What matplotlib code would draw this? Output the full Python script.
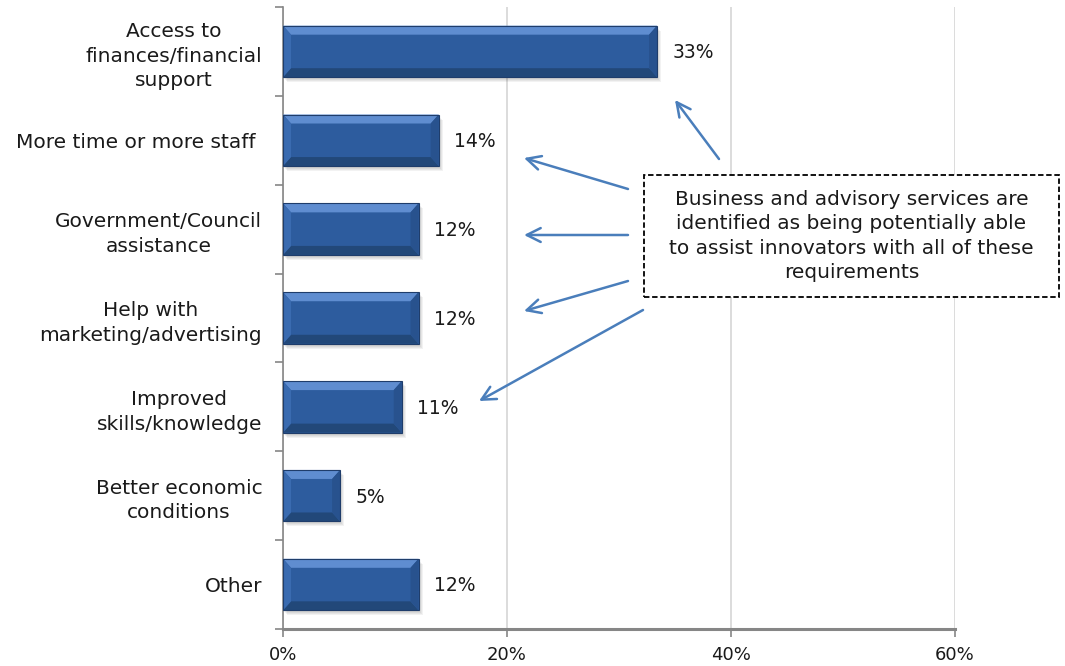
import matplotlib.pyplot as plt
from matplotlib.patches import Polygon, Rectangle
from matplotlib.ticker import FixedLocator, PercentFormatter
import numpy as np

categories = ['Access to\nfinances/financial\nsupport',
              'More time or more staff ',
              'Government/Council\nassistance',
              'Help with\nmarketing/advertising',
              'Improved\nskills/knowledge',
              'Better economic\nconditions',
              'Other']
shares = [0.334, 0.139, 0.121, 0.121, 0.106, 0.051, 0.121]
x_ticks = [0, 0.2, 0.4, 0.6]

note = ('Business and advisory services are\nidentified as being potentially able\n'
        'to assist innovators with all of these\nrequirements')

plt.rcParams['font.family'] = 'DejaVu Sans'
W, H = 1065, 666
fig = plt.figure(figsize=(W / 100, H / 100), dpi=100)
ax = fig.add_axes([283 / W, 1 - 629 / H, 672 / W, 622 / H])

ypos = np.arange(len(categories))
bar_h = 0.58
ax.set_xlim(0, 0.6)
ax.set_ylim(len(categories) - 0.5, -0.5)

# pixel size in data units, for the bevel
px_x = 0.6 / 672
px_y = len(categories) / 622


def bevel_bar(y, w):
    x0, x1 = 0, w
    top, bot = y - bar_h / 2, y + bar_h / 2
    bx, by = 8 * px_x, 9 * px_y
    # soft shadow under the bar
    for k in range(4):
        ax.add_patch(Rectangle((x0 + (1 + k) * px_x, top + (2 + k) * px_y), w, bar_h,
                               facecolor='black', alpha=0.05, lw=0, zorder=2))
    ax.add_patch(Rectangle((x0, top), w, bar_h, facecolor='#2D5C9E', lw=0, zorder=3))
    # top face (lighter)
    ax.add_patch(Polygon([(x0, top), (x1, top), (x1 - bx, top + by), (x0 + bx, top + by)],
                         closed=True, facecolor='#5F8DD0', lw=0, zorder=4))
    # bottom face (darker)
    ax.add_patch(Polygon([(x0, bot), (x1, bot), (x1 - bx, bot - by), (x0 + bx, bot - by)],
                         closed=True, facecolor='#224879', lw=0, zorder=4))
    # side faces
    ax.add_patch(Polygon([(x0, top), (x0 + bx, top + by), (x0 + bx, bot - by), (x0, bot)],
                         closed=True, facecolor='#3A6BB0', lw=0, zorder=4))
    ax.add_patch(Polygon([(x1, top), (x1 - bx, top + by), (x1 - bx, bot - by), (x1, bot)],
                         closed=True, facecolor='#28528E', lw=0, zorder=4))
    ax.add_patch(Rectangle((x0, top), w, bar_h, facecolor='none', edgecolor='#1F3D6B',
                           lw=0.8, zorder=5))


for y, v in zip(ypos, shares):
    bevel_bar(y, v)
    ax.annotate(f'{v:.0%}', (v, y), xytext=(11, -1), textcoords='offset points',
                ha='left', va='center', fontsize=13.5, color='#1A1A1A')

# grid and axes
ax.set_xticks(x_ticks)
ax.xaxis.set_major_formatter(PercentFormatter(1.0, decimals=0))
ax.grid(axis='x', color='#D9D9D9', lw=1.3, zorder=0)
ax.set_axisbelow(True)
ax.set_yticks(ypos)
ax.set_yticklabels(categories, multialignment='center', fontsize=14.5, linespacing=1.38)
ax.yaxis.set_minor_locator(FixedLocator(np.arange(-0.5, len(categories), 1.0)))
ax.tick_params(axis='y', which='major', length=0, pad=15, labelcolor='#1A1A1A')
ax.tick_params(axis='y', which='minor', length=6, color='#868686', width=1.2)
ax.tick_params(axis='x', length=6, color='#868686', width=1.2, pad=6,
               labelsize=13, labelcolor='#1A1A1A')
for s in ['top', 'right']:
    ax.spines[s].set_visible(False)
ax.spines['left'].set_color('#868686')
ax.spines['left'].set_linewidth(1.2)
ax.spines['bottom'].set_color('#868686')
ax.spines['bottom'].set_linewidth(2.2)

# callout box
bx0, by0, bx1, by1 = 644, 175, 1059, 297
fig.patches.append(Rectangle((bx0, H - by1), bx1 - bx0, by1 - by0, transform=None,
                             facecolor='white', edgecolor='black', lw=1.3,
                             linestyle=(0, (3, 1.5)), zorder=6))
fig.text((bx0 + bx1) / 2 / W, 1 - (by0 + by1) / 2 / H, note, ha='center', va='center',
         multialignment='center', fontsize=14.5, linespacing=1.37, color='#1A1A1A', zorder=7)

# arrows from the callout to the bars
arrows = [((719, 159), (675, 100)),
          ((628, 189), (524, 158)),
          ((628, 235), (524, 235)),
          ((628, 281), (524, 311)),
          ((643, 310), (479, 401))]
for (tx, ty), (hx, hy) in arrows:
    ax.annotate('', xy=(hx, H - hy), xycoords='figure pixels',
                xytext=(tx, H - ty), textcoords='figure pixels',
                arrowprops=dict(arrowstyle='->,head_length=1.0,head_width=0.5',
                                color='#4A7EBB', lw=1.8, shrinkA=0, shrinkB=0))

fig.savefig('out.png', dpi=100)
